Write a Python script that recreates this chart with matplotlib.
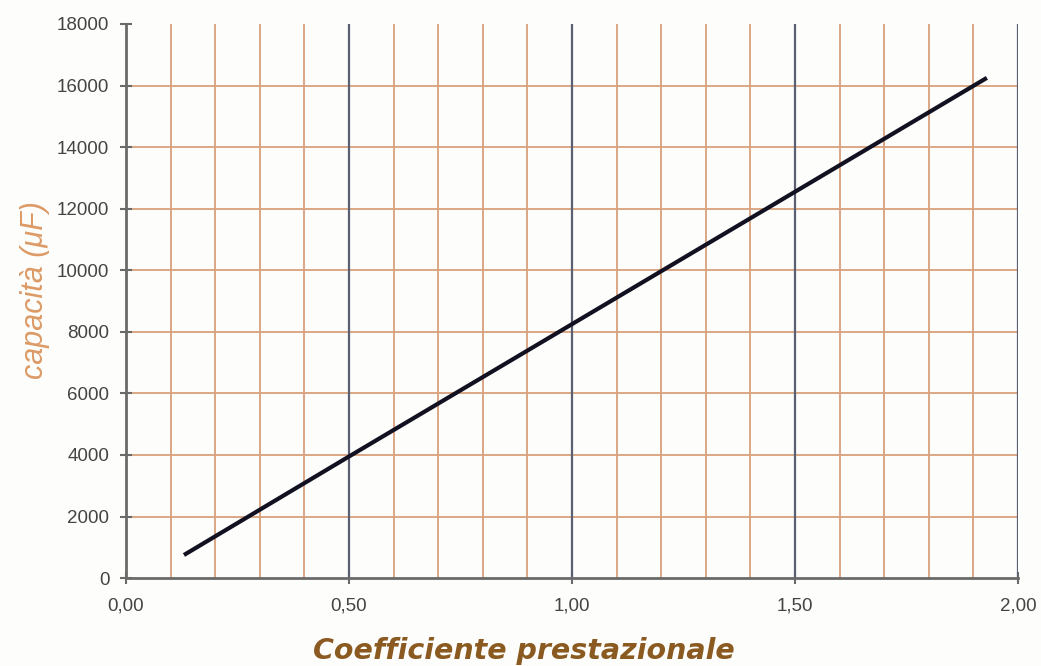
import matplotlib
matplotlib.use("Agg")
import matplotlib.pyplot as plt
from matplotlib.ticker import FuncFormatter

# Capacity as a function of the performance coefficient
coeff = [0.13, 0.50, 1.00, 1.50, 1.93]
capacity = [750, 3950, 8250, 12550, 16250]

x_ticks = [0.0, 0.5, 1.0, 1.5, 2.0]
y_ticks = list(range(0, 18001, 2000))

orange_grid = "#d9a07c"
dark_grid = "#5a6072"
axis_col = "#6a6a6a"

fig = plt.figure(figsize=(10.41, 6.66), dpi=100, facecolor="#fdfdfb")
ax = fig.add_axes([0.121, 0.132, 0.857, 0.832])
ax.set_facecolor("#fdfdfb")

ax.set_xlim(0, 2.0)
ax.set_ylim(0, 18000)

# minor vertical grid every 0.1, horizontal every 2000
for xv in [i / 10 for i in range(1, 21)]:
    if abs(xv * 2 - round(xv * 2)) < 1e-9:
        continue
    ax.axvline(xv, color=orange_grid, lw=1.3, zorder=1)
for yv in y_ticks[1:-1]:
    ax.axhline(yv, color=orange_grid, lw=1.3, zorder=1)
# major vertical grid every 0.5
for xv in x_ticks[1:]:
    ax.axvline(xv, color=dark_grid, lw=1.6, zorder=2)

ax.plot(coeff, capacity, color="#111122", lw=3, solid_capstyle="butt", zorder=3)

ax.set_xticks(x_ticks)
ax.set_yticks(y_ticks)
ax.xaxis.set_major_formatter(FuncFormatter(lambda v, p: f"{v:.2f}".replace(".", ",")))
ax.yaxis.set_major_formatter(FuncFormatter(lambda v, p: f"{int(v)}"))

for s in ["top", "right"]:
    ax.spines[s].set_visible(False)
for s in ["left", "bottom"]:
    ax.spines[s].set_color(axis_col)
    ax.spines[s].set_linewidth(2)

ax.tick_params(axis="both", direction="inout", length=8, width=1.5, color=axis_col,
               labelcolor="#444444", labelsize=13.5, pad=8)
for lab in ax.get_xticklabels() + ax.get_yticklabels():
    lab.set_family("Liberation Sans")
ax.tick_params(axis="x", pad=10)

fig.text(35 / 1041, 1 - 290 / 666, "capacità (μF)", family="Liberation Sans",
         style="italic", fontsize=22, color="#dc9a66", rotation=90,
         ha="center", va="center")
fig.text(524 / 1041, 1 - 651 / 666, "Coefficiente prestazionale", family="DejaVu Sans",
         style="italic", weight="bold", fontsize=20.5, color="#8a5a20",
         ha="center", va="center")

fig.savefig("out.png", dpi=100, facecolor=fig.get_facecolor())
